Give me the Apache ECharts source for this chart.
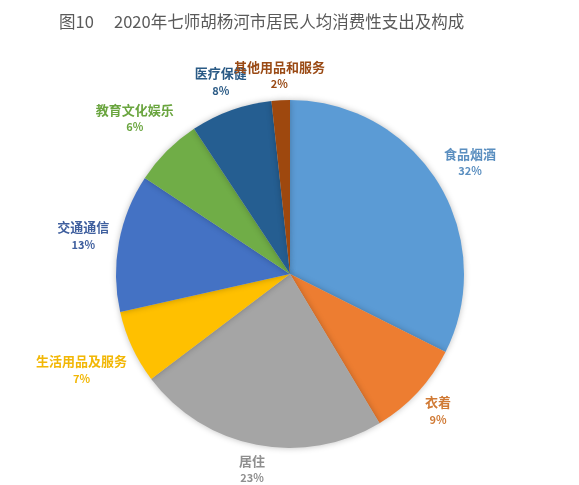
<!DOCTYPE html>
<html><head><meta charset="utf-8">
<script src="https://cdn.jsdelivr.net/npm/echarts@6/dist/echarts.min.js"></script>
<style>html,body{margin:0;padding:0;background:#fff}#c{width:579px;height:485px}</style>
</head><body><div id="c"></div>
<script>
var categories = ['食品烟酒','衣着','居住','生活用品及服务','交通通信','教育文化娱乐','医疗保健','其他用品和服务'];
var shares = [32.4, 9.0, 23.3, 6.8, 12.8, 6.4, 7.6, 1.7];
var sliceColors = ['#5B9BD5','#ED7D31','#A5A5A5','#FFC000','#4472C4','#70AD47','#255E91','#9E480E'];
var labelColors = ['#5b8fc0','#d07a35','#8f8f8f','#f2b705','#3f5f9e','#6aa53f','#2a5a85','#9a4a15'];
var titleText = '图10\u3000 2020年七师胡杨河市居民人均消费性支出及构成';

var CX = 290, CY = 274, R = 174, GAP = 8;
var chart = echarts.init(document.getElementById('c'));
var pieData = categories.map(function(n,i){return {name:n, value:shares[i], itemStyle:{color:sliceColors[i]}, label:{color:labelColors[i]}};});
chart.setOption({
  animation:false,
  title:{text:titleText,left:54,top:8,textStyle:{fontSize:16.5,fontWeight:'normal',color:'#5a5a5a',fontFamily:'Noto Sans CJK SC'}},
  series:[
    {type:'pie',center:[CX,CY],radius:[0,R],startAngle:90,clockwise:true,avoidLabelOverlap:false,
     data:pieData,labelLine:{show:false},silent:true,
     itemStyle:{shadowBlur:6,shadowColor:'rgba(0,0,0,0.25)'},
     label:{show:true,position:'inside',
       formatter:function(p){return '{n|'+p.name+'}\n{p|'+Math.round(p.value)+'%}';},
       rich:{n:{fontSize:13,fontWeight:'bold',fontFamily:'Noto Sans CJK SC',lineHeight:18,align:'center'},
             p:{fontSize:11,fontWeight:'bold',fontFamily:'Noto Sans CJK SC',lineHeight:17,align:'center'}}},
     labelLayout:function(p){
       var r = p.labelRect;
       var mx = r.x + r.width/2 - CX, my = r.y + r.height/2 - CY;
       var L = Math.sqrt(mx*mx+my*my) || 1;
       var ux = mx/L, uy = my/L;
       var d = R + GAP + Math.abs(ux)*r.width/2 + Math.abs(uy)*r.height/2;
       return {x: CX + ux*d, y: CY + uy*d, align:'center', verticalAlign:'middle'};
     }}
  ]
});
</script></body></html>
